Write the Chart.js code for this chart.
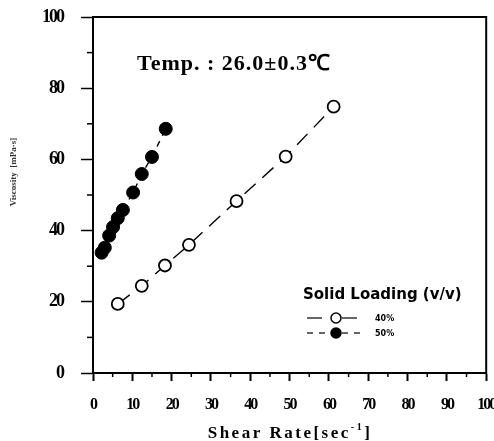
<!DOCTYPE html>
<html>
<head>
<meta charset="utf-8">
<script src="https://cdn.jsdelivr.net/npm/chart.js@4/dist/chart.umd.min.js"></script>
<style>
  html, body { margin: 0; padding: 0; background: #fff; }
  #wrap { width: 494px; height: 441px; position: relative; }
</style>
</head>
<body>
<div id="wrap"><canvas id="chart"></canvas></div>
<script>
// ==== data ====
const seriesNames = ['40%', '50%'];
const rate40 = [6.3, 12.4, 18.3, 24.4, 36.5, 49.0, 61.2];
const visc40 = [19.4, 24.5, 30.2, 36.0, 48.3, 60.8, 74.8];
const rate50 = [2.2, 3.0, 4.1, 5.1, 6.3, 7.6, 10.2, 12.4, 15.0, 18.5];
const visc50 = [33.8, 35.2, 38.6, 41.0, 43.5, 45.8, 50.7, 55.9, 60.7, 68.6];
const xTicks = [0, 10, 20, 30, 40, 50, 60, 70, 80, 90, 100];
const yTicks = [0, 20, 40, 60, 80, 100];

const serif = '"Liberation Serif", "Times New Roman", serif';
const sans = '"DejaVu Sans", "Liberation Sans", sans-serif';

function pairs(xs, ys) {
  return xs.map((x, i) => ({ x: x, y: ys[i] }));
}

// tick digits in the picture are condensed: tighten letters before the axes draw
const condense = {
  id: 'condense',
  beforeDraw(chart) { chart.ctx.letterSpacing = '-2px'; }
};

// ==== extra drawing: frame, minor ticks, texts, legend ====
const decor = {
  id: 'decor',
  afterDraw(chart) {
    const ctx = chart.ctx;
    const a = chart.chartArea;
    const xs = chart.scales.x, ys = chart.scales.y;
    ctx.letterSpacing = '0px';
    ctx.save();
    ctx.strokeStyle = '#000';
    // frame
    ctx.lineWidth = 2;
    ctx.strokeRect(a.left, a.top, a.right - a.left, a.bottom - a.top);
    // minor ticks
    ctx.lineWidth = 1.5;
    for (let v = 5; v < 100; v += 10) {
      const px = xs.getPixelForValue(v);
      ctx.beginPath(); ctx.moveTo(px, a.bottom); ctx.lineTo(px, a.bottom + 4); ctx.stroke();
    }
    for (let v = 10; v < 100; v += 20) {
      const py = ys.getPixelForValue(v);
      ctx.beginPath(); ctx.moveTo(a.left, py); ctx.lineTo(a.left - 6, py); ctx.stroke();
    }
    // temperature note
    ctx.fillStyle = '#000';
    ctx.font = 'bold 22px ' + serif;
    ctx.textAlign = 'left';
    ctx.textBaseline = 'alphabetic';
    ctx.letterSpacing = '1px';
    ctx.fillText('Temp. : 26.0\u00B10.3\u2103', 137, 70);
    ctx.letterSpacing = '0px';
    // y title (rotated)
    ctx.save();
    ctx.translate(14, 172);
    ctx.rotate(-Math.PI / 2);
    ctx.textAlign = 'center';
    ctx.textBaseline = 'middle';
    ctx.font = 'bold 9px ' + serif;
    ctx.fillStyle = '#333';
    ctx.fillText('Viscosity  [mPa\u00B7s]', 0, 0);
    ctx.restore();
    // x title with a raised -1
    ctx.textAlign = 'left';
    ctx.letterSpacing = '2.5px';
    ctx.font = 'bold 17px ' + serif;
    const t1 = 'Shear Rate[sec';
    const w1 = ctx.measureText(t1).width;
    ctx.font = 'bold 10px ' + serif;
    const w2 = ctx.measureText('-1').width;
    ctx.font = 'bold 17px ' + serif;
    const w3 = ctx.measureText(']').width;
    let tx = 290 - (w1 + w2 + w3) / 2;
    ctx.fillText(t1, tx, 438);
    ctx.font = 'bold 10px ' + serif;
    ctx.fillText('-1', tx + w1, 430);
    ctx.font = 'bold 17px ' + serif;
    ctx.fillText(']', tx + w1 + w2, 438);
    ctx.letterSpacing = '0px';
    // legend
    ctx.font = 'bold 15px ' + sans;
    ctx.fillText('Solid Loading (v/v)', 303, 299);
    const rows = [{ y: 318, ds: chart.data.datasets[0] }, { y: 333, ds: chart.data.datasets[1] }];
    rows.forEach(r => {
      ctx.lineWidth = 1.2;
      ctx.setLineDash(r.ds.borderDash);
      ctx.beginPath(); ctx.moveTo(307, r.y); ctx.lineTo(330, r.y); ctx.stroke();
      ctx.beginPath(); ctx.moveTo(342, r.y); ctx.lineTo(366, r.y); ctx.stroke();
      ctx.setLineDash([]);
      ctx.beginPath();
      ctx.arc(336, r.y, 5, 0, Math.PI * 2);
      ctx.fillStyle = r.ds.pointBackgroundColor;
      ctx.fill();
      ctx.lineWidth = 1.5;
      ctx.stroke();
      ctx.fillStyle = '#000';
      ctx.font = 'bold 8px ' + sans;
      ctx.textBaseline = 'middle';
      ctx.fillText(r.ds.label, 375, r.y + 1);
      ctx.textBaseline = 'alphabetic';
    });
    ctx.restore();
  }
};

new Chart(document.getElementById('chart'), {
  type: 'scatter',
  data: {
    datasets: [
      {
        label: seriesNames[0],
        data: pairs(rate40, visc40),
        showLine: true,
        borderColor: '#000',
        borderWidth: 1.4,
        borderDash: [15, 9],
        pointRadius: 6,
        pointBorderWidth: 1.8,
        pointBackgroundColor: '#fff',
        pointBorderColor: '#000'
      },
      {
        label: seriesNames[1],
        data: pairs(rate50, visc50),
        showLine: true,
        borderColor: '#000',
        borderWidth: 1.4,
        borderDash: [6, 6],
        pointRadius: 6.5,
        pointBorderWidth: 1,
        pointBackgroundColor: '#000',
        pointBorderColor: '#000'
      }
    ]
  },
  options: {
    responsive: true,
    maintainAspectRatio: false,
    animation: false,
    layout: { padding: { top: 17, right: 7, left: 0, bottom: 0 } },
    plugins: {
      legend: { display: false },
      tooltip: { enabled: false }
    },
    scales: {
      x: {
        type: 'linear',
        min: 0, max: 100,
        afterFit(s) { s.height = 68; s.paddingLeft = 0; s.paddingRight = 0; },
        afterBuildTicks(s) { s.ticks = xTicks.map(v => ({ value: v })); },
        grid: { drawOnChartArea: false, tickLength: 8, tickWidth: 2, tickColor: '#000' },
        border: { color: '#000', width: 2 },
        ticks: {
          color: '#000',
          padding: 14,
          maxRotation: 0,
          font: { family: serif, size: 16, weight: 'bold' }
        }
      },
      y: {
        type: 'linear',
        min: 0, max: 100,
        afterFit(s) { s.width = 93; s.paddingTop = 0; s.paddingBottom = 0; },
        afterBuildTicks(s) { s.ticks = yTicks.map(v => ({ value: v })); },
        grid: { drawOnChartArea: false, tickLength: 12, tickWidth: 1.5, tickColor: '#000' },
        border: { color: '#000', width: 2 },
        ticks: {
          color: '#000',
          padding: 18,
          font: { family: serif, size: 18, weight: 'bold' }
        }
      }
    }
  },
  plugins: [condense, decor]
});
</script>
</body>
</html>
